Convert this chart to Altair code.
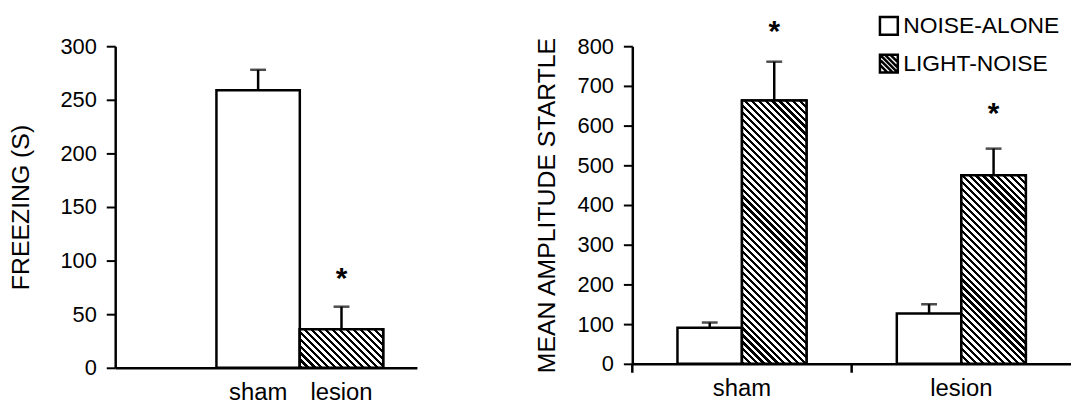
import altair as alt
import pandas as pd

# ---------------- data ----------------
# Left panel: freezing
freeze_groups = ["sham", "lesion"]
freeze_mean = [259, 36]
freeze_err = [278, 57]
freeze_star_group = ["lesion"]
freeze_star_y = [86]

# Right panel: startle
startle_groups = ["sham", "sham", "lesion", "lesion"]
startle_series = ["NOISE-ALONE", "LIGHT-NOISE", "NOISE-ALONE", "LIGHT-NOISE"]
startle_mean = [91, 663, 127, 475]
startle_err = [104, 761, 150, 542]
startle_star_group = ["sham", "lesion"]
startle_star_series = ["LIGHT-NOISE", "LIGHT-NOISE"]
startle_star_y = [843, 637]

series_order = ["NOISE-ALONE", "LIGHT-NOISE"]
group_order = ["sham", "lesion"]
freeze_ticks = [0, 50, 100, 150, 200, 250, 300]
startle_ticks = [0, 100, 200, 300, 400, 500, 600, 700, 800]

# ---------------- layout / style ----------------
FONT = "Liberation Sans"
LW, LH, LMAX = 304, 324, 300
RW, RH, RMAX = 442, 320, 800
L_PO = 0.8095
L_ALIGN = 0.75
L_BAR = LW / (2 + 2 * L_PO)
R_BAR = 65.0
R_PO = (RW / 2 / R_BAR - 2) / 2
SW = 2.5

HATCH_PATH = ("M-1,-1H1V1H-1Z M-1,-1L1,1 M-1,-0.45L0.45,1 M-0.45,-1L1,0.45 "
              "M-1,0.15L-0.15,1 M0.15,-1L1,-0.15")


def hatch(w, h, period=7.0, ink=0.45):
    """Diagonal '\\' hatching as a hard-stop linear gradient for a w x h bar."""
    total = w + h
    s = total / (w * w + h * h)
    stops = []
    k = 0
    while k * period < total:
        a = k * period / total
        b = min((k * period + ink * period) / total, 1.0)
        c = min((k + 1) * period / total, 1.0)
        stops += [
            alt.GradientStop(offset=a, color="black"),
            alt.GradientStop(offset=b, color="black"),
            alt.GradientStop(offset=b, color="white"),
            alt.GradientStop(offset=c, color="white"),
        ]
        k += 1
    return alt.LinearGradient(gradient="linear", x1=0, y1=1, x2=s * w, y2=1 - s * h, stops=stops)


xaxis = dict(title=None, ticks=False, tickSize=0, labelAngle=0, labelFontSize=24,
             labelPadding=13, domainWidth=SW, domainColor="black", labelColor="black",
             labelFont=FONT)


def ly(field):
    return alt.Y(field, scale=alt.Scale(domain=[0, LMAX], nice=False),
                 axis=alt.Axis(title="FREEZING (S)", values=freeze_ticks, titlePadding=27,
                               labelOverlap=False, tickCount=len(freeze_ticks)))


def ry(field):
    return alt.Y(field, scale=alt.Scale(domain=[0, RMAX], nice=False),
                 axis=alt.Axis(title="MEAN AMPLITUDE STARTLE", values=startle_ticks,
                               titlePadding=18, labelOverlap=False,
                               tickCount=len(startle_ticks)))


# ---------------- left chart ----------------
fdf = pd.DataFrame({"group": freeze_groups, "mean": freeze_mean, "err": freeze_err})
fstar = pd.DataFrame({"group": freeze_star_group, "ypos": freeze_star_y})

lx_scale = alt.Scale(domain=group_order, paddingInner=0, paddingOuter=L_PO, align=L_ALIGN)
lx = alt.X("group:N", scale=lx_scale, sort=group_order, axis=alt.Axis(**xaxis))

lbase = alt.Chart(fdf)
l_bars = lbase.mark_bar(fill="white", stroke="black", strokeWidth=SW).encode(x=lx, y=ly("mean:Q"))
les_h = freeze_mean[1] * LH / LMAX
l_hatch = lbase.transform_filter(alt.datum.group == "lesion").mark_bar(
    fill=hatch(L_BAR, les_h), stroke="black", strokeWidth=SW).encode(x=lx, y=ly("mean:Q"))
l_err = lbase.mark_rule(color="black", strokeWidth=SW).encode(
    x=lx, y=ly("mean:Q"), y2="err:Q")
l_cap = lbase.mark_tick(color="black", orient="horizontal", size=16, thickness=SW).encode(
    x=lx, y=ly("err:Q"))
l_star = alt.Chart(fstar).mark_text(text="*", fontSize=30, font=FONT, fontWeight="bold",
                                    baseline="alphabetic", dy=12).encode(x=lx, y=ly("ypos:Q"))

left = alt.layer(l_bars, l_hatch, l_err, l_cap, l_star).properties(width=LW, height=LH)

# ---------------- right chart ----------------
sdf = pd.DataFrame({"group": startle_groups, "series": startle_series,
                    "mean": startle_mean, "err": startle_err})
sstar = pd.DataFrame({"group": startle_star_group, "series": startle_star_series,
                      "ypos": startle_star_y})
gdf = pd.DataFrame({"group": group_order})

rx_scale = alt.Scale(domain=group_order, paddingInner=0, paddingOuter=0)
rx = alt.X("group:N", scale=rx_scale, sort=group_order, axis=alt.Axis(**xaxis))
rxo = alt.XOffset("series:N", sort=series_order,
                  scale=alt.Scale(domain=series_order, paddingInner=0, paddingOuter=R_PO))

rbase = alt.Chart(sdf)
r_bars = rbase.mark_bar(fill="white", stroke="black", strokeWidth=SW).encode(
    x=rx, xOffset=rxo, y=ry("mean:Q"))
r_hatch_layers = []
for g, s, m in zip(startle_groups, startle_series, startle_mean):
    if s == "LIGHT-NOISE":
        r_hatch_layers.append(
            rbase.transform_filter((alt.datum.group == g) & (alt.datum.series == s)).mark_bar(
                fill=hatch(R_BAR, m * RH / RMAX), stroke="black", strokeWidth=SW
            ).encode(x=rx, xOffset=rxo, y=ry("mean:Q"))
        )
r_err = rbase.mark_rule(color="black", strokeWidth=SW).encode(
    x=rx, xOffset=rxo, y=ry("mean:Q"), y2="err:Q")
r_cap = rbase.mark_tick(color="black", orient="horizontal", size=16, thickness=SW).encode(
    x=rx, xOffset=rxo, y=ry("err:Q"))
r_star = alt.Chart(sstar).mark_text(text="*", fontSize=30, font=FONT, fontWeight="bold",
                                    baseline="alphabetic", dy=12).encode(
    x=rx, xOffset=rxo, y=ry("ypos:Q"))
r_ticks = alt.Chart(gdf).mark_rule(color="black", strokeWidth=SW).encode(
    x=alt.X("group:N", bandPosition=0, scale=rx_scale, sort=group_order),
    y=alt.value(RH), y2=alt.value(RH + 9))
r_legend = rbase.transform_filter("false").mark_point(
    filled=False, color="black", strokeWidth=SW, opacity=1).encode(
    x=rx, xOffset=rxo, y=ry("mean:Q"),
    shape=alt.Shape("series:N",
                    scale=alt.Scale(domain=series_order, range=["square", HATCH_PATH]),
                    legend=alt.Legend(title=None, orient="none", legendX=768, legendY=-32,
                                      symbolSize=324, symbolStrokeWidth=SW,
                                      symbolStrokeColor="black", symbolFillColor="white",
                                      labelFont=FONT, labelFontSize=23, labelColor="black",
                                      labelOffset=3, rowPadding=9, labelLimit=400)))

right = alt.layer(r_bars, *r_hatch_layers, r_err, r_cap, r_star, r_ticks, r_legend).properties(
    width=RW, height=RH)

chart = alt.hconcat(left, right, spacing=217, bounds="flush").properties(
    padding={"left": 0, "top": 5, "right": 0, "bottom": 0}
).configure_view(stroke=None).configure_axis(
    grid=False, labelFont=FONT, titleFont=FONT, labelFontSize=22, titleFontSize=25,
    titleFontWeight="normal", labelColor="black", titleColor="black",
    domainColor="black", tickColor="black", domainWidth=SW, tickWidth=2, tickSize=9,
    labelPadding=10
)

chart.save("out.html", embed_options={"renderer": "svg", "actions": False})
